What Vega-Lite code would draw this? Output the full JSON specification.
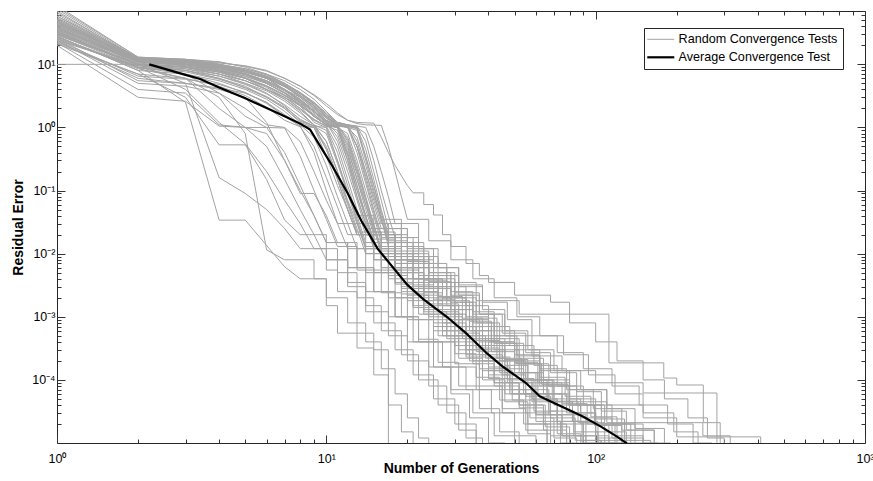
{
"$schema":"https://vega.github.io/schema/vega-lite/v6.json",
"width":808,"height":432,
"autosize":"none",
"padding":{"left":57,"top":11,"right":8,"bottom":38},
"background":"#ffffff",
"config":{"view":{"stroke":"#262626","strokeWidth":1},
"axis":{"tickColor":"#333333","tickWidth":1,"labelFont":"Liberation Sans","titleFont":"Liberation Sans","labelColor":"#000000","titleColor":"#000000","grid":false,"labelFontSize":12.5}},
"datasets":{
"e":[
{"r":1,"x":1,"y":45},{"r":1,"x":2,"y":12},{"r":1,"x":3,"y":11},{"r":1,"x":4,"y":8},{"r":1,"x":5,"y":6},{"r":1,"x":6,"y":4},{"r":1,"x":7,"y":2.8},{"r":1,"x":8,"y":1.8},{"r":1,"x":9,"y":1.1},{"r":1,"x":10,"y":0.45},{"r":1,"x":11,"y":0.15},{"r":1,"x":12,"y":0.05},{"r":1,"x":13,"y":0.02},
{"r":2,"x":1,"y":30},{"r":2,"x":2,"y":10},{"r":2,"x":3,"y":9},{"r":2,"x":4,"y":7.5},{"r":2,"x":5,"y":5.5},{"r":2,"x":6,"y":4},{"r":2,"x":7,"y":3},{"r":2,"x":8,"y":2.2},{"r":2,"x":9,"y":1.6},{"r":2,"x":10,"y":1.1},{"r":2,"x":11,"y":1.0},{"r":2,"x":12,"y":0.4},{"r":2,"x":13,"y":0.12},{"r":2,"x":14,"y":0.04},{"r":2,"x":15,"y":0.015},
{"r":3,"x":1,"y":80},{"r":3,"x":2,"y":13},{"r":3,"x":3,"y":12},{"r":3,"x":4,"y":10},{"r":3,"x":5,"y":8},{"r":3,"x":6,"y":6},{"r":3,"x":7,"y":4},{"r":3,"x":8,"y":2.5},{"r":3,"x":9,"y":1.5},{"r":3,"x":10,"y":1.1},{"r":3,"x":11,"y":1.05},{"r":3,"x":12,"y":1.0},{"r":3,"x":13,"y":0.5},{"r":3,"x":14,"y":0.15},{"r":3,"x":15,"y":0.05},{"r":3,"x":16,"y":0.02},
{"r":4,"x":1,"y":25},{"r":4,"x":2,"y":9},{"r":4,"x":3,"y":7},{"r":4,"x":4,"y":5},{"r":4,"x":5,"y":3.5},{"r":4,"x":6,"y":2.5},{"r":4,"x":7,"y":1.5},{"r":4,"x":8,"y":1.05},{"r":4,"x":9,"y":0.4},{"r":4,"x":10,"y":0.1},{"r":4,"x":11,"y":0.03},{"r":4,"x":12,"y":0.012},
{"r":5,"x":1,"y":50},{"r":5,"x":2,"y":11},{"r":5,"x":3,"y":10},{"r":5,"x":4,"y":9},{"r":5,"x":5,"y":7},{"r":5,"x":6,"y":5},{"r":5,"x":7,"y":3.5},{"r":5,"x":8,"y":2.5},{"r":5,"x":9,"y":1.8},{"r":5,"x":10,"y":1.2},{"r":5,"x":11,"y":0.8},{"r":5,"x":12,"y":0.3},{"r":5,"x":13,"y":0.08},{"r":5,"x":14,"y":0.03},
{"r":6,"x":1,"y":35},{"r":6,"x":2,"y":12},{"r":6,"x":3,"y":10},{"r":6,"x":4,"y":8},{"r":6,"x":5,"y":6.5},{"r":6,"x":6,"y":5},{"r":6,"x":7,"y":3.5},{"r":6,"x":8,"y":2.2},{"r":6,"x":9,"y":1.2},{"r":6,"x":10,"y":1.0},{"r":6,"x":11,"y":0.3},{"r":6,"x":12,"y":0.09},{"r":6,"x":13,"y":0.04},
{"r":7,"x":1,"y":32},{"r":7,"x":2,"y":10},{"r":7,"x":3,"y":8},{"r":7,"x":4,"y":6},{"r":7,"x":5,"y":4.5},{"r":7,"x":6,"y":3},{"r":7,"x":7,"y":2},{"r":7,"x":8,"y":1.2},{"r":7,"x":9,"y":1.0},{"r":7,"x":10,"y":0.35},{"r":7,"x":11,"y":0.12},{"r":7,"x":12,"y":0.05},{"r":7,"x":13,"y":0.02},
{"r":8,"x":1,"y":70},{"r":8,"x":2,"y":12},{"r":8,"x":3,"y":11},{"r":8,"x":4,"y":10},{"r":8,"x":5,"y":8.5},{"r":8,"x":6,"y":7},{"r":8,"x":7,"y":5},{"r":8,"x":8,"y":3.5},{"r":8,"x":9,"y":2.5},{"r":8,"x":10,"y":1.6},{"r":8,"x":11,"y":1.2},{"r":8,"x":12,"y":1.1},{"r":8,"x":13,"y":1.05},{"r":8,"x":14,"y":0.6},{"r":8,"x":15,"y":0.2},{"r":8,"x":16,"y":0.07},{"r":8,"x":17,"y":0.025},
{"r":9,"x":1,"y":22},{"r":9,"x":2,"y":4},{"r":9,"x":3,"y":3.5},{"r":9,"x":4,"y":1.1},{"r":9,"x":5,"y":1.0},{"r":9,"x":6,"y":0.8},{"r":9,"x":7,"y":0.3},{"r":9,"x":8,"y":0.1},{"r":9,"x":9,"y":0.04},{"r":9,"x":10,"y":0.015},
{"r":10,"x":1,"y":28},{"r":10,"x":2,"y":8},{"r":10,"x":3,"y":2.5},{"r":10,"x":4,"y":0.034},{"r":10,"x":5,"y":0.034},{"r":10,"x":7,"y":0.0062},{"r":10,"x":8,"y":0.004},
{"r":11,"x":1,"y":22},{"r":11,"x":2,"y":7},{"r":11,"x":3,"y":3},{"r":11,"x":4,"y":0.53},{"r":11,"x":5,"y":0.53},{"r":11,"x":6,"y":0.15},{"r":11,"x":7,"y":0.034},{"r":11,"x":8,"y":0.02},
{"r":12,"x":1,"y":40},{"r":12,"x":2,"y":10},{"r":12,"x":3,"y":5},{"r":12,"x":4,"y":0.16},{"r":12,"x":5,"y":0.09},{"r":12,"x":6,"y":0.05},{"r":12,"x":7,"y":0.025},{"r":12,"x":8,"y":0.012},
{"r":13,"x":1,"y":24},{"r":13,"x":2,"y":5},{"r":13,"x":3,"y":4.5},{"r":13,"x":4,"y":3.5},{"r":13,"x":5,"y":2},{"r":13,"x":6,"y":1.1},{"r":13,"x":7,"y":1.0},{"r":13,"x":8,"y":0.6},{"r":13,"x":9,"y":0.2},{"r":13,"x":10,"y":0.07},{"r":13,"x":11,"y":0.03},
{"r":14,"x":1,"y":38},{"r":14,"x":2,"y":11},{"r":14,"x":3,"y":10},{"r":14,"x":4,"y":9},{"r":14,"x":5,"y":7.5},{"r":14,"x":6,"y":6},{"r":14,"x":7,"y":4.5},{"r":14,"x":8,"y":3},{"r":14,"x":9,"y":2},{"r":14,"x":10,"y":1.3},{"r":14,"x":11,"y":1.1},{"r":14,"x":12,"y":0.6},{"r":14,"x":13,"y":0.2},{"r":14,"x":14,"y":0.07},{"r":14,"x":15,"y":0.025},{"r":14,"x":16,"y":0.01},
{"r":15,"x":1,"y":85},{"r":15,"x":2,"y":13},{"r":15,"x":3,"y":12},{"r":15,"x":4,"y":11},{"r":15,"x":5,"y":9},{"r":15,"x":6,"y":7},{"r":15,"x":7,"y":5.5},{"r":15,"x":8,"y":4},{"r":15,"x":9,"y":2.8},{"r":15,"x":10,"y":1.8},{"r":15,"x":11,"y":1.2},{"r":15,"x":12,"y":1.1},{"r":15,"x":13,"y":1.05},{"r":15,"x":14,"y":1.0},{"r":15,"x":15,"y":0.5},{"r":15,"x":16,"y":0.2},{"r":15,"x":17,"y":0.08},{"r":15,"x":18,"y":0.03},
{"r":16,"x":1,"y":48},{"r":16,"x":2,"y":12},{"r":16,"x":3,"y":11.5},{"r":16,"x":4,"y":10.5},{"r":16,"x":5,"y":9.5},{"r":16,"x":6,"y":8},{"r":16,"x":7,"y":6},{"r":16,"x":8,"y":4.5},{"r":16,"x":9,"y":3.2},{"r":16,"x":10,"y":2.2},{"r":16,"x":11,"y":1.6},{"r":16,"x":12,"y":1.3},{"r":16,"x":13,"y":1.2},{"r":16,"x":15,"y":1.17},{"r":16,"x":16,"y":0.7},{"r":16,"x":17,"y":0.4},{"r":16,"x":18,"y":0.25},{"r":16,"x":20,"y":0.12},{"r":16,"x":21,"y":0.092},
{"r":17,"x":1,"y":33},{"r":17,"x":2,"y":11},{"r":17,"x":3,"y":10},{"r":17,"x":4,"y":8.5},{"r":17,"x":5,"y":7},{"r":17,"x":6,"y":5.5},{"r":17,"x":7,"y":4},{"r":17,"x":8,"y":3},{"r":17,"x":9,"y":2},{"r":17,"x":10,"y":1.4},{"r":17,"x":11,"y":1.1},{"r":17,"x":12,"y":1.0},{"r":17,"x":13,"y":0.5},{"r":17,"x":14,"y":0.2},{"r":17,"x":15,"y":0.08},{"r":17,"x":16,"y":0.035},
{"r":18,"x":1,"y":27},{"r":18,"x":2,"y":9},{"r":18,"x":3,"y":8},{"r":18,"x":4,"y":6.5},{"r":18,"x":5,"y":5},{"r":18,"x":6,"y":3.5},{"r":18,"x":7,"y":2.2},{"r":18,"x":8,"y":1.3},{"r":18,"x":9,"y":1.05},{"r":18,"x":10,"y":1.0},{"r":18,"x":11,"y":0.4},{"r":18,"x":12,"y":0.12},{"r":18,"x":13,"y":0.04},{"r":18,"x":14,"y":0.015},
{"r":19,"x":1,"y":52},{"r":19,"x":2,"y":12.5},{"r":19,"x":3,"y":11},{"r":19,"x":4,"y":9.5},{"r":19,"x":5,"y":8},{"r":19,"x":6,"y":6},{"r":19,"x":7,"y":4},{"r":19,"x":8,"y":2.8},{"r":19,"x":9,"y":1.8},{"r":19,"x":10,"y":1.2},{"r":19,"x":11,"y":0.6},{"r":19,"x":12,"y":0.2},{"r":19,"x":13,"y":0.07},{"r":19,"x":14,"y":0.025},
{"r":20,"x":1,"y":20},{"r":20,"x":2,"y":3},{"r":20,"x":3,"y":2.6},{"r":20,"x":4,"y":1.05},{"r":20,"x":5,"y":1.0},{"r":20,"x":6,"y":1.0},{"r":20,"x":7,"y":0.4},{"r":20,"x":8,"y":0.12},{"r":20,"x":9,"y":0.04},{"r":20,"x":10,"y":0.015},
{"r":21,"x":1,"y":42},{"r":21,"x":2,"y":11},{"r":21,"x":3,"y":9.5},{"r":21,"x":4,"y":8},{"r":21,"x":5,"y":6},{"r":21,"x":6,"y":4.5},{"r":21,"x":7,"y":3.2},{"r":21,"x":8,"y":2.3},{"r":21,"x":9,"y":1.5},{"r":21,"x":10,"y":1.1},{"r":21,"x":11,"y":1.0},{"r":21,"x":12,"y":0.8},{"r":21,"x":13,"y":0.3},{"r":21,"x":14,"y":0.1},{"r":21,"x":15,"y":0.04},{"r":21,"x":16,"y":0.015},
{"r":22,"x":1,"y":36},{"r":22,"x":2,"y":10.5},{"r":22,"x":3,"y":9},{"r":22,"x":4,"y":7},{"r":22,"x":5,"y":5},{"r":22,"x":6,"y":3.8},{"r":22,"x":7,"y":2.6},{"r":22,"x":8,"y":1.7},{"r":22,"x":9,"y":1.1},{"r":22,"x":10,"y":0.6},{"r":22,"x":11,"y":0.2},{"r":22,"x":12,"y":0.07},{"r":22,"x":13,"y":0.03},{"r":22,"x":14,"y":0.012},
{"r":23,"x":1,"y":58},{"r":23,"x":2,"y":12},{"r":23,"x":3,"y":11},{"r":23,"x":4,"y":9},{"r":23,"x":5,"y":7},{"r":23,"x":6,"y":5},{"r":23,"x":7,"y":3.5},{"r":23,"x":8,"y":2.4},{"r":23,"x":9,"y":1.6},{"r":23,"x":10,"y":1.15},{"r":23,"x":11,"y":1.05},{"r":23,"x":12,"y":0.5},{"r":23,"x":13,"y":0.15},{"r":23,"x":14,"y":0.05},{"r":23,"x":15,"y":0.02},
{"r":24,"x":1,"y":24},{"r":24,"x":2,"y":9.5},{"r":24,"x":3,"y":8.5},{"r":24,"x":4,"y":7},{"r":24,"x":5,"y":5.5},{"r":24,"x":6,"y":4},{"r":24,"x":7,"y":2.8},{"r":24,"x":8,"y":1.9},{"r":24,"x":9,"y":1.3},{"r":24,"x":10,"y":1.05},{"r":24,"x":11,"y":0.5},{"r":24,"x":12,"y":0.15},{"r":24,"x":13,"y":0.05},{"r":24,"x":14,"y":0.02},
{"r":25,"x":1,"y":44},{"r":25,"x":2,"y":11.5},{"r":25,"x":3,"y":10.5},{"r":25,"x":4,"y":9},{"r":25,"x":5,"y":7.5},{"r":25,"x":6,"y":6},{"r":25,"x":7,"y":4.5},{"r":25,"x":8,"y":3.2},{"r":25,"x":9,"y":2.2},{"r":25,"x":10,"y":1.5},{"r":25,"x":11,"y":1.1},{"r":25,"x":12,"y":1.0},{"r":25,"x":13,"y":0.7},{"r":25,"x":14,"y":0.25},{"r":25,"x":15,"y":0.09},{"r":25,"x":16,"y":0.035},{"r":25,"x":17,"y":0.015},
{"r":26,"x":1,"y":31},{"r":26,"x":2,"y":10},{"r":26,"x":3,"y":9},{"r":26,"x":4,"y":7.5},{"r":26,"x":5,"y":6},{"r":26,"x":6,"y":4.5},{"r":26,"x":7,"y":3.2},{"r":26,"x":8,"y":2.2},{"r":26,"x":9,"y":1.5},{"r":26,"x":10,"y":1.1},{"r":26,"x":11,"y":1.0},{"r":26,"x":12,"y":0.45},{"r":26,"x":13,"y":0.15},{"r":26,"x":14,"y":0.06},{"r":26,"x":15,"y":0.025},
{"r":27,"x":1,"y":28},{"r":27,"x":2,"y":8},{"r":27,"x":3,"y":7},{"r":27,"x":4,"y":5.5},{"r":27,"x":5,"y":4},{"r":27,"x":6,"y":2.8},{"r":27,"x":7,"y":1.8},{"r":27,"x":8,"y":1.1},{"r":27,"x":9,"y":0.7},{"r":27,"x":10,"y":0.25},{"r":27,"x":11,"y":0.08},{"r":27,"x":12,"y":0.03},{"r":27,"x":13,"y":0.012},
{"r":28,"x":1,"y":10},{"r":28,"x":2,"y":10},{"r":28,"x":3,"y":9},{"r":28,"x":4,"y":7},{"r":28,"x":5,"y":5.5},{"r":28,"x":6,"y":4},{"r":28,"x":7,"y":3},{"r":28,"x":8,"y":2},{"r":28,"x":9,"y":1.3},{"r":28,"x":10,"y":1.05},{"r":28,"x":11,"y":0.9},{"r":28,"x":12,"y":0.35},{"r":28,"x":13,"y":0.1},{"r":28,"x":14,"y":0.035},{"r":28,"x":15,"y":0.013},
{"r":29,"x":1,"y":34},{"r":29,"x":2,"y":9},{"r":29,"x":3,"y":6},{"r":29,"x":4,"y":2},{"r":29,"x":5,"y":1.0},{"r":29,"x":6,"y":0.5},{"r":29,"x":7,"y":0.15},{"r":29,"x":8,"y":0.05},{"r":29,"x":9,"y":0.02},{"r":29,"x":10,"y":0.008},
{"r":30,"x":1,"y":26},{"r":30,"x":2,"y":5.5},{"r":30,"x":3,"y":5},{"r":30,"x":4,"y":4.2},{"r":30,"x":5,"y":3.5},{"r":30,"x":6,"y":2.5},{"r":30,"x":7,"y":1.6},{"r":30,"x":8,"y":1.1},{"r":30,"x":9,"y":1.0},{"r":30,"x":10,"y":0.45},{"r":30,"x":11,"y":0.15},{"r":30,"x":12,"y":0.05},{"r":30,"x":13,"y":0.02},
{"r":31,"x":1,"y":46},{"r":31,"x":2,"y":12},{"r":31,"x":3,"y":10},{"r":31,"x":4,"y":8.5},{"r":31,"x":5,"y":7},{"r":31,"x":6,"y":5.5},{"r":31,"x":7,"y":4},{"r":31,"x":8,"y":2.8},{"r":31,"x":9,"y":1.9},{"r":31,"x":10,"y":1.3},{"r":31,"x":11,"y":1.1},{"r":31,"x":12,"y":1.05},{"r":31,"x":13,"y":1.0},{"r":31,"x":14,"y":0.45},{"r":31,"x":15,"y":0.15},{"r":31,"x":16,"y":0.05},{"r":31,"x":17,"y":0.02},
{"r":32,"x":1,"y":26},{"r":32,"x":2,"y":8.5},{"r":32,"x":3,"y":6},{"r":32,"x":4,"y":3},{"r":32,"x":5,"y":0.8},{"r":32,"x":6,"y":0.0115},{"r":32,"x":7,"y":0.008},
{"r":33,"x":1,"y":39},{"r":33,"x":2,"y":11},{"r":33,"x":3,"y":10},{"r":33,"x":4,"y":8},{"r":33,"x":5,"y":6.5},{"r":33,"x":6,"y":5},{"r":33,"x":7,"y":3.6},{"r":33,"x":8,"y":2.5},{"r":33,"x":9,"y":1.7},{"r":33,"x":10,"y":1.2},{"r":33,"x":11,"y":1.0},{"r":33,"x":12,"y":0.3},{"r":33,"x":13,"y":0.1},{"r":33,"x":14,"y":0.04},{"r":33,"x":15,"y":0.017},
{"r":34,"x":1,"y":75},{"r":34,"x":2,"y":12.5},{"r":34,"x":3,"y":11.5},{"r":34,"x":4,"y":10},{"r":34,"x":5,"y":8},{"r":34,"x":6,"y":6.5},{"r":34,"x":7,"y":5},{"r":34,"x":8,"y":3.5},{"r":34,"x":9,"y":2.4},{"r":34,"x":10,"y":1.6},{"r":34,"x":11,"y":1.2},{"r":34,"x":12,"y":1.1},{"r":34,"x":13,"y":0.6},{"r":34,"x":14,"y":0.2},{"r":34,"x":15,"y":0.07},{"r":34,"x":16,"y":0.03},
{"r":35,"x":1,"y":29},{"r":35,"x":2,"y":10},{"r":35,"x":3,"y":8.5},{"r":35,"x":4,"y":6.5},{"r":35,"x":5,"y":4.8},{"r":35,"x":6,"y":3.4},{"r":35,"x":7,"y":2.3},{"r":35,"x":8,"y":1.5},{"r":35,"x":9,"y":1.1},{"r":35,"x":10,"y":0.9},{"r":35,"x":11,"y":0.3},{"r":35,"x":12,"y":0.1},{"r":35,"x":13,"y":0.035},{"r":35,"x":14,"y":0.013},
{"r":36,"x":1,"y":23},{"r":36,"x":2,"y":6},{"r":36,"x":3,"y":5},{"r":36,"x":4,"y":4},{"r":36,"x":5,"y":3},{"r":36,"x":6,"y":1.2},{"r":36,"x":7,"y":0.3},{"r":36,"x":8,"y":0.09},{"r":36,"x":9,"y":0.09},{"r":36,"x":10,"y":0.04},{"r":36,"x":11,"y":0.015},
{"r":37,"x":1,"y":37},{"r":37,"x":2,"y":11},{"r":37,"x":3,"y":9.8},{"r":37,"x":4,"y":8.2},{"r":37,"x":5,"y":6.8},{"r":37,"x":6,"y":5.2},{"r":37,"x":7,"y":3.8},{"r":37,"x":8,"y":2.6},{"r":37,"x":9,"y":1.8},{"r":37,"x":10,"y":1.25},{"r":37,"x":11,"y":1.05},{"r":37,"x":12,"y":0.7},{"r":37,"x":13,"y":0.25},{"r":37,"x":14,"y":0.08},{"r":37,"x":15,"y":0.03},{"r":37,"x":16,"y":0.012},
{"r":38,"x":1,"y":53},{"r":38,"x":2,"y":11.5},{"r":38,"x":3,"y":10.5},{"r":38,"x":4,"y":9.5},{"r":38,"x":5,"y":8},{"r":38,"x":6,"y":6.2},{"r":38,"x":7,"y":4.5},{"r":38,"x":8,"y":3.2},{"r":38,"x":9,"y":2.2},{"r":38,"x":10,"y":1.5},{"r":38,"x":11,"y":1.15},{"r":38,"x":12,"y":1.05},{"r":38,"x":13,"y":1.0},{"r":38,"x":14,"y":0.8},{"r":38,"x":15,"y":0.3},{"r":38,"x":16,"y":0.1},{"r":38,"x":17,"y":0.04},{"r":38,"x":18,"y":0.018},
{"r":39,"x":1,"y":41},{"r":39,"x":2,"y":11},{"r":39,"x":3,"y":10},{"r":39,"x":4,"y":8.8},{"r":39,"x":5,"y":7.2},{"r":39,"x":6,"y":5.5},{"r":39,"x":7,"y":4},{"r":39,"x":8,"y":2.7},{"r":39,"x":9,"y":1.8},{"r":39,"x":10,"y":1.2},{"r":39,"x":11,"y":0.7},{"r":39,"x":12,"y":0.25},{"r":39,"x":13,"y":0.08},{"r":39,"x":14,"y":0.03},{"r":39,"x":15,"y":0.012},
{"r":40,"x":1,"y":66},{"r":40,"x":2,"y":12.5},{"r":40,"x":3,"y":11.5},{"r":40,"x":4,"y":10},{"r":40,"x":5,"y":8.5},{"r":40,"x":6,"y":6.8},{"r":40,"x":7,"y":5},{"r":40,"x":8,"y":3.6},{"r":40,"x":9,"y":2.5},{"r":40,"x":10,"y":1.7},{"r":40,"x":11,"y":1.2},{"r":40,"x":12,"y":1.08},{"r":40,"x":13,"y":1.0},{"r":40,"x":14,"y":0.35},{"r":40,"x":15,"y":0.12},{"r":40,"x":16,"y":0.045},{"r":40,"x":17,"y":0.018},
{"r":41,"x":1,"y":33},{"r":41,"x":2,"y":9.5},{"r":41,"x":3,"y":8},{"r":41,"x":4,"y":6},{"r":41,"x":5,"y":4.2},{"r":41,"x":6,"y":3},{"r":41,"x":7,"y":2},{"r":41,"x":8,"y":1.25},{"r":41,"x":9,"y":1.05},{"r":41,"x":10,"y":0.6},{"r":41,"x":11,"y":0.2},{"r":41,"x":12,"y":0.065},{"r":41,"x":13,"y":0.025},{"r":41,"x":14,"y":0.01},
{"r":42,"x":1,"y":55},{"r":42,"x":2,"y":12},{"r":42,"x":3,"y":11},{"r":42,"x":4,"y":9.8},{"r":42,"x":5,"y":8.2},{"r":42,"x":6,"y":6.5},{"r":42,"x":7,"y":4.8},{"r":42,"x":8,"y":3.4},{"r":42,"x":9,"y":2.3},{"r":42,"x":10,"y":1.5},{"r":42,"x":11,"y":1.1},{"r":42,"x":12,"y":1.02},{"r":42,"x":13,"y":0.4},{"r":42,"x":14,"y":0.13},{"r":42,"x":15,"y":0.045},{"r":42,"x":16,"y":0.018},
{"r":43,"x":1,"y":21},{"r":43,"x":2,"y":7},{"r":43,"x":3,"y":6},{"r":43,"x":4,"y":4.5},{"r":43,"x":5,"y":3.2},{"r":43,"x":6,"y":2.1},{"r":43,"x":7,"y":1.3},{"r":43,"x":8,"y":1.02},{"r":43,"x":9,"y":0.5},{"r":43,"x":10,"y":0.16},{"r":43,"x":11,"y":0.055},{"r":43,"x":12,"y":0.02},
{"r":44,"x":1,"y":47},{"r":44,"x":2,"y":11.8},{"r":44,"x":3,"y":10.8},{"r":44,"x":4,"y":9.2},{"r":44,"x":5,"y":7.6},{"r":44,"x":6,"y":6},{"r":44,"x":7,"y":4.4},{"r":44,"x":8,"y":3.1},{"r":44,"x":9,"y":2.1},{"r":44,"x":10,"y":1.4},{"r":44,"x":11,"y":1.1},{"r":44,"x":12,"y":1.0},{"r":44,"x":13,"y":0.9},{"r":44,"x":14,"y":0.35},{"r":44,"x":15,"y":0.12},{"r":44,"x":16,"y":0.04},{"r":44,"x":17,"y":0.016},
{"r":45,"x":1,"y":58},{"r":45,"x":2,"y":12.8},{"r":45,"x":3,"y":12},{"r":45,"x":4,"y":10.8},{"r":45,"x":5,"y":9.3},{"r":45,"x":6,"y":7.8},{"r":45,"x":7,"y":6},{"r":45,"x":8,"y":4.5},{"r":45,"x":9,"y":3.3},{"r":45,"x":10,"y":2.4},{"r":45,"x":11,"y":1.7},{"r":45,"x":12,"y":1.3},{"r":45,"x":13,"y":1.15},{"r":45,"x":14,"y":1.1},{"r":45,"x":16,"y":1.08},{"r":45,"x":17,"y":0.5},{"r":45,"x":18,"y":0.2},{"r":45,"x":19,"y":0.08},{"r":45,"x":20,"y":0.035},
{"r":46,"x":1,"y":30},{"r":46,"x":2,"y":9},{"r":46,"x":3,"y":4},{"r":46,"x":4,"y":1.2},{"r":46,"x":5,"y":0.55},{"r":46,"x":6,"y":0.2},{"r":46,"x":7,"y":0.07},{"r":46,"x":8,"y":0.03},{"r":46,"x":9,"y":0.012},
{"r":47,"x":1,"y":38},{"r":47,"x":2,"y":10.8},{"r":47,"x":3,"y":9.5},{"r":47,"x":4,"y":7.8},{"r":47,"x":5,"y":6.2},{"r":47,"x":6,"y":4.6},{"r":47,"x":7,"y":3.3},{"r":47,"x":8,"y":2.3},{"r":47,"x":9,"y":1.5},{"r":47,"x":10,"y":1.1},{"r":47,"x":11,"y":1.0},{"r":47,"x":12,"y":0.55},{"r":47,"x":13,"y":0.18},{"r":47,"x":14,"y":0.06},{"r":47,"x":15,"y":0.022},
{"r":48,"x":1,"y":27},{"r":48,"x":2,"y":8.8},{"r":48,"x":3,"y":7.6},{"r":48,"x":4,"y":5.8},{"r":48,"x":5,"y":4.3},{"r":48,"x":6,"y":3.1},{"r":48,"x":7,"y":2.1},{"r":48,"x":8,"y":1.35},{"r":48,"x":9,"y":1.05},{"r":48,"x":10,"y":0.8},{"r":48,"x":11,"y":0.27},{"r":48,"x":12,"y":0.09},{"r":48,"x":13,"y":0.032},{"r":48,"x":14,"y":0.012},
{"r":49,"x":1,"y":50},{"r":49,"x":2,"y":12},{"r":49,"x":3,"y":10.8},{"r":49,"x":4,"y":9.3},{"r":49,"x":5,"y":7.8},{"r":49,"x":6,"y":6.2},{"r":49,"x":7,"y":4.7},{"r":49,"x":8,"y":3.4},{"r":49,"x":9,"y":2.4},{"r":49,"x":10,"y":1.6},{"r":49,"x":11,"y":1.15},{"r":49,"x":12,"y":1.05},{"r":49,"x":13,"y":0.5},{"r":49,"x":14,"y":0.17},{"r":49,"x":15,"y":0.06},{"r":49,"x":16,"y":0.025},
{"r":50,"x":1,"y":24},{"r":50,"x":2,"y":6.5},{"r":50,"x":3,"y":5.8},{"r":50,"x":4,"y":4.8},{"r":50,"x":5,"y":3.6},{"r":50,"x":6,"y":2.4},{"r":50,"x":7,"y":1.5},{"r":50,"x":8,"y":1.05},{"r":50,"x":9,"y":1.0},{"r":50,"x":10,"y":0.5},{"r":50,"x":11,"y":0.17},{"r":50,"x":12,"y":0.06},{"r":50,"x":13,"y":0.022},
{"r":51,"x":1,"y":62},{"r":51,"x":2,"y":12.2},{"r":51,"x":3,"y":11.2},{"r":51,"x":4,"y":9.6},{"r":51,"x":5,"y":8},{"r":51,"x":6,"y":6.3},{"r":51,"x":7,"y":4.6},{"r":51,"x":8,"y":3.2},{"r":51,"x":9,"y":2.2},{"r":51,"x":10,"y":1.45},{"r":51,"x":11,"y":1.12},{"r":51,"x":12,"y":1.04},{"r":51,"x":13,"y":0.95},{"r":51,"x":14,"y":0.3},{"r":51,"x":15,"y":0.1},{"r":51,"x":16,"y":0.035},{"r":51,"x":17,"y":0.013},
{"r":52,"x":1,"y":35},{"r":52,"x":2,"y":9.8},{"r":52,"x":3,"y":7},{"r":52,"x":4,"y":3.5},{"r":52,"x":5,"y":1.5},{"r":52,"x":6,"y":1.0},{"r":52,"x":7,"y":0.98},{"r":52,"x":8,"y":0.35},{"r":52,"x":9,"y":0.1},{"r":52,"x":10,"y":0.035},{"r":52,"x":11,"y":0.013},
{"r":53,"x":1,"y":43},{"r":53,"x":2,"y":11.3},{"r":53,"x":3,"y":10.2},{"r":53,"x":4,"y":8.6},{"r":53,"x":5,"y":7},{"r":53,"x":6,"y":5.3},{"r":53,"x":7,"y":3.9},{"r":53,"x":8,"y":2.7},{"r":53,"x":9,"y":1.8},{"r":53,"x":10,"y":1.25},{"r":53,"x":11,"y":1.05},{"r":53,"x":12,"y":0.65},{"r":53,"x":13,"y":0.22},{"r":53,"x":14,"y":0.075},{"r":53,"x":15,"y":0.028},{"r":53,"x":16,"y":0.011},
{"r":54,"x":1,"y":31},{"r":54,"x":2,"y":10.2},{"r":54,"x":3,"y":9.2},{"r":54,"x":4,"y":7.6},{"r":54,"x":5,"y":6},{"r":54,"x":6,"y":4.3},{"r":54,"x":7,"y":3},{"r":54,"x":8,"y":2},{"r":54,"x":9,"y":1.35},{"r":54,"x":10,"y":1.05},{"r":54,"x":11,"y":1.0},{"r":54,"x":12,"y":0.38},{"r":54,"x":13,"y":0.12},{"r":54,"x":14,"y":0.04},{"r":54,"x":15,"y":0.015}
],
"t":[
{"r":1,"x":13,"y":0.02},{"r":1,"x":16,"y":0.006},{"r":1,"x":19,"y":0.003},{"r":1,"x":23,"y":0.0012},{"r":1,"x":28,"y":5e-4},{"r":1,"x":34,"y":2e-4},{"r":1,"x":42,"y":9e-5},{"r":1,"x":52,"y":4e-5},{"r":1,"x":65,"y":1.8e-5},{"r":1,"x":80,"y":5e-6},
{"r":2,"x":15,"y":0.015},{"r":2,"x":18,"y":0.007},{"r":2,"x":22,"y":0.003},{"r":2,"x":27,"y":0.0015},{"r":2,"x":31,"y":7e-4},{"r":2,"x":38,"y":3e-4},{"r":2,"x":46,"y":1.3e-4},{"r":2,"x":60,"y":6e-5},{"r":2,"x":78,"y":3e-5},{"r":2,"x":100,"y":1.2e-5},{"r":2,"x":120,"y":5e-6},
{"r":3,"x":16,"y":0.02},{"r":3,"x":19,"y":0.009},{"r":3,"x":23,"y":0.004},{"r":3,"x":27,"y":0.002},{"r":3,"x":33,"y":9e-4},{"r":3,"x":40,"y":4e-4},{"r":3,"x":50,"y":2e-4},{"r":3,"x":62,"y":8e-5},{"r":3,"x":80,"y":4e-5},{"r":3,"x":105,"y":2e-5},{"r":3,"x":140,"y":5e-6},
{"r":4,"x":12,"y":0.012},{"r":4,"x":14,"y":0.005},{"r":4,"x":17,"y":0.002},{"r":4,"x":20,"y":9e-4},{"r":4,"x":24,"y":4e-4},{"r":4,"x":29,"y":1.6e-4},{"r":4,"x":36,"y":7e-5},{"r":4,"x":45,"y":3e-5},{"r":4,"x":56,"y":1.4e-5},{"r":4,"x":68,"y":5e-6},
{"r":5,"x":14,"y":0.03},{"r":5,"x":17,"y":0.01},{"r":5,"x":21,"y":0.004},{"r":5,"x":26,"y":0.0018},{"r":5,"x":30,"y":9e-4},{"r":5,"x":37,"y":4e-4},{"r":5,"x":45,"y":2e-4},{"r":5,"x":55,"y":1e-4},{"r":5,"x":70,"y":5e-5},{"r":5,"x":88,"y":2.5e-5},{"r":5,"x":115,"y":1.2e-5},{"r":5,"x":150,"y":5e-6},
{"r":6,"x":13,"y":0.04},{"r":6,"x":15,"y":0.015},{"r":6,"x":18,"y":0.006},{"r":6,"x":22,"y":0.0025},{"r":6,"x":26,"y":0.0011},{"r":6,"x":32,"y":5e-4},{"r":6,"x":39,"y":2.2e-4},{"r":6,"x":47,"y":1e-4},{"r":6,"x":58,"y":5e-5},{"r":6,"x":72,"y":2.2e-5},{"r":6,"x":90,"y":1.1e-5},{"r":6,"x":105,"y":5e-6},
{"r":7,"x":13,"y":0.02},{"r":7,"x":15,"y":0.008},{"r":7,"x":18,"y":0.0035},{"r":7,"x":21,"y":0.0015},{"r":7,"x":25,"y":7e-4},{"r":7,"x":31,"y":3e-4},{"r":7,"x":38,"y":1.4e-4},{"r":7,"x":46,"y":6e-5},{"r":7,"x":57,"y":2.5e-5},{"r":7,"x":70,"y":1.2e-5},{"r":7,"x":85,"y":5e-6},
{"r":8,"x":17,"y":0.025},{"r":8,"x":20,"y":0.01},{"r":8,"x":24,"y":0.005},{"r":8,"x":29,"y":0.0025},{"r":8,"x":35,"y":0.0012},{"r":8,"x":42,"y":6e-4},{"r":8,"x":50,"y":3e-4},{"r":8,"x":62,"y":1.5e-4},{"r":8,"x":78,"y":7e-5},{"r":8,"x":98,"y":3.5e-5},{"r":8,"x":125,"y":1.6e-5},{"r":8,"x":165,"y":5e-6},
{"r":9,"x":10,"y":0.015},{"r":9,"x":12,"y":0.006},{"r":9,"x":15,"y":0.0025},{"r":9,"x":18,"y":0.001},{"r":9,"x":22,"y":4e-4},{"r":9,"x":27,"y":1.6e-4},{"r":9,"x":33,"y":7e-5},{"r":9,"x":41,"y":3e-5},{"r":9,"x":50,"y":1.3e-5},{"r":9,"x":60,"y":5e-6},
{"r":10,"x":8,"y":0.004},{"r":10,"x":10,"y":0.002},{"r":10,"x":12,"y":8e-4},{"r":10,"x":14,"y":4e-4},{"r":10,"x":16,"y":1.5e-4},{"r":10,"x":18,"y":6e-5},{"r":10,"x":20,"y":2.5e-5},{"r":10,"x":22,"y":1.2e-5},{"r":10,"x":24,"y":5e-6},
{"r":11,"x":8,"y":0.02},{"r":11,"x":10,"y":0.008},{"r":11,"x":12,"y":0.003},{"r":11,"x":14,"y":0.0012},{"r":11,"x":17,"y":5e-4},{"r":11,"x":20,"y":2e-4},{"r":11,"x":24,"y":8e-5},{"r":11,"x":28,"y":3e-5},{"r":11,"x":33,"y":1.2e-5},{"r":11,"x":38,"y":5e-6},
{"r":12,"x":8,"y":0.012},{"r":12,"x":10,"y":0.0055},{"r":12,"x":11,"y":0.0025},{"r":12,"x":13,"y":5.5e-4},{"r":12,"x":15,"y":3e-4},{"r":12,"x":17,"y":5e-6},
{"r":13,"x":11,"y":0.03},{"r":13,"x":14,"y":0.01},{"r":13,"x":17,"y":0.004},{"r":13,"x":20,"y":0.0018},{"r":13,"x":25,"y":8e-4},{"r":13,"x":30,"y":3.5e-4},{"r":13,"x":37,"y":1.5e-4},{"r":13,"x":45,"y":7e-5},{"r":13,"x":55,"y":3e-5},{"r":13,"x":68,"y":1.3e-5},{"r":13,"x":80,"y":5e-6},
{"r":14,"x":16,"y":0.01},{"r":14,"x":19,"y":0.005},{"r":14,"x":23,"y":0.0022},{"r":14,"x":27,"y":0.001},{"r":14,"x":32,"y":4.5e-4},{"r":14,"x":38,"y":2e-4},{"r":14,"x":47,"y":9e-5},{"r":14,"x":58,"y":4.5e-5},{"r":14,"x":72,"y":2e-5},{"r":14,"x":90,"y":1e-5},{"r":14,"x":110,"y":5e-6},
{"r":15,"x":18,"y":0.03},{"r":15,"x":22,"y":0.012},{"r":15,"x":26,"y":0.006},{"r":15,"x":31,"y":0.003},{"r":15,"x":38,"y":0.0013},{"r":15,"x":46,"y":6e-4},{"r":15,"x":56,"y":3e-4},{"r":15,"x":70,"y":1.4e-4},{"r":15,"x":88,"y":7e-5},{"r":15,"x":110,"y":3.5e-5},{"r":15,"x":140,"y":1.7e-5},{"r":15,"x":180,"y":5e-6},
{"r":16,"x":21,"y":0.092},{"r":16,"x":23,"y":0.06},{"r":16,"x":25,"y":0.041},{"r":16,"x":27,"y":0.02},{"r":16,"x":29,"y":0.013},{"r":16,"x":33,"y":0.007},{"r":16,"x":37,"y":0.0045},{"r":16,"x":40,"y":0.0035},{"r":16,"x":50,"y":0.0022},{"r":16,"x":68,"y":0.0017},{"r":16,"x":80,"y":8e-4},{"r":16,"x":100,"y":4e-4},{"r":16,"x":120,"y":2e-4},{"r":16,"x":150,"y":1e-4},{"r":16,"x":180,"y":5e-5},{"r":16,"x":220,"y":2.5e-5},{"r":16,"x":260,"y":1.2e-5},{"r":16,"x":300,"y":5e-6},
{"r":17,"x":16,"y":0.035},{"r":17,"x":19,"y":0.015},{"r":17,"x":23,"y":0.007},{"r":17,"x":28,"y":0.0035},{"r":17,"x":36,"y":0.0018},{"r":17,"x":52,"y":0.0011},{"r":17,"x":112,"y":1.86e-4},{"r":17,"x":179,"y":1.07e-4},{"r":17,"x":200,"y":8.3e-5},{"r":17,"x":251,"y":2.1e-5},{"r":17,"x":290,"y":5e-6},
{"r":18,"x":14,"y":0.015},{"r":18,"x":16,"y":0.006},{"r":18,"x":19,"y":0.0028},{"r":18,"x":23,"y":0.0013},{"r":18,"x":27,"y":6e-4},{"r":18,"x":33,"y":2.5e-4},{"r":18,"x":40,"y":1.2e-4},{"r":18,"x":48,"y":6e-5},{"r":18,"x":60,"y":2.8e-5},{"r":18,"x":75,"y":1.3e-5},{"r":18,"x":92,"y":5e-6},
{"r":19,"x":14,"y":0.025},{"r":19,"x":17,"y":0.009},{"r":19,"x":20,"y":0.004},{"r":19,"x":24,"y":0.002},{"r":19,"x":29,"y":9e-4},{"r":19,"x":35,"y":4.5e-4},{"r":19,"x":43,"y":2.2e-4},{"r":19,"x":53,"y":1e-4},{"r":19,"x":66,"y":4.5e-5},{"r":19,"x":82,"y":2.2e-5},{"r":19,"x":102,"y":1e-5},{"r":19,"x":120,"y":5e-6},
{"r":20,"x":10,"y":0.015},{"r":20,"x":12,"y":0.006},{"r":20,"x":14,"y":0.0025},{"r":20,"x":17,"y":0.001},{"r":20,"x":20,"y":4e-4},{"r":20,"x":24,"y":1.6e-4},{"r":20,"x":29,"y":7e-5},{"r":20,"x":35,"y":3e-5},{"r":20,"x":42,"y":1.3e-5},{"r":20,"x":50,"y":5e-6},
{"r":21,"x":16,"y":0.015},{"r":21,"x":20,"y":0.006},{"r":21,"x":24,"y":0.003},{"r":21,"x":29,"y":0.0013},{"r":21,"x":35,"y":6e-4},{"r":21,"x":42,"y":3e-4},{"r":21,"x":52,"y":1.3e-4},{"r":21,"x":64,"y":6e-5},{"r":21,"x":80,"y":3e-5},{"r":21,"x":100,"y":1.5e-5},{"r":21,"x":130,"y":5e-6},
{"r":22,"x":14,"y":0.012},{"r":22,"x":17,"y":0.005},{"r":22,"x":20,"y":0.0022},{"r":22,"x":24,"y":0.001},{"r":22,"x":28,"y":4.5e-4},{"r":22,"x":35,"y":2e-4},{"r":22,"x":42,"y":9e-5},{"r":22,"x":52,"y":4e-5},{"r":22,"x":64,"y":2e-5},{"r":22,"x":78,"y":5e-6},
{"r":23,"x":15,"y":0.02},{"r":23,"x":18,"y":0.008},{"r":23,"x":22,"y":0.0035},{"r":23,"x":26,"y":0.0016},{"r":23,"x":31,"y":7e-4},{"r":23,"x":38,"y":3.5e-4},{"r":23,"x":46,"y":1.7e-4},{"r":23,"x":56,"y":8e-5},{"r":23,"x":70,"y":4e-5},{"r":23,"x":88,"y":2e-5},{"r":23,"x":112,"y":1e-5},{"r":23,"x":135,"y":5e-6},
{"r":24,"x":14,"y":0.02},{"r":24,"x":18,"y":0.008},{"r":24,"x":22,"y":0.004},{"r":24,"x":27,"y":0.002},{"r":24,"x":33,"y":0.001},{"r":24,"x":40,"y":5e-4},{"r":24,"x":50,"y":2.5e-4},{"r":24,"x":62,"y":1.4e-4},{"r":24,"x":80,"y":7e-5},{"r":24,"x":110,"y":4e-5},{"r":24,"x":150,"y":2.5e-5},{"r":24,"x":200,"y":1.25e-5},{"r":24,"x":410,"y":5e-6},
{"r":25,"x":17,"y":0.015},{"r":25,"x":21,"y":0.007},{"r":25,"x":25,"y":0.0035},{"r":25,"x":30,"y":0.0017},{"r":25,"x":36,"y":8e-4},{"r":25,"x":44,"y":3.8e-4},{"r":25,"x":54,"y":1.8e-4},{"r":25,"x":67,"y":8e-5},{"r":25,"x":85,"y":4e-5},{"r":25,"x":108,"y":2e-5},{"r":25,"x":135,"y":1e-5},{"r":25,"x":170,"y":5e-6},
{"r":26,"x":15,"y":0.025},{"r":26,"x":19,"y":0.011},{"r":26,"x":24,"y":0.005},{"r":26,"x":30,"y":0.0024},{"r":26,"x":37,"y":0.0011},{"r":26,"x":46,"y":5e-4},{"r":26,"x":58,"y":2.4e-4},{"r":26,"x":75,"y":1.4e-4},{"r":26,"x":100,"y":9e-5},{"r":26,"x":150,"y":6.2e-5},{"r":26,"x":282,"y":5e-6},
{"r":27,"x":13,"y":0.012},{"r":27,"x":15,"y":0.005},{"r":27,"x":18,"y":0.002},{"r":27,"x":21,"y":9e-4},{"r":27,"x":25,"y":4e-4},{"r":27,"x":30,"y":1.8e-4},{"r":27,"x":37,"y":8e-5},{"r":27,"x":45,"y":3.5e-5},{"r":27,"x":55,"y":1.6e-5},{"r":27,"x":66,"y":5e-6},
{"r":28,"x":15,"y":0.013},{"r":28,"x":18,"y":0.006},{"r":28,"x":21,"y":0.0028},{"r":28,"x":25,"y":0.0013},{"r":28,"x":30,"y":6e-4},{"r":28,"x":36,"y":2.8e-4},{"r":28,"x":44,"y":1.3e-4},{"r":28,"x":54,"y":6e-5},{"r":28,"x":67,"y":2.8e-5},{"r":28,"x":83,"y":1.3e-5},{"r":28,"x":100,"y":5e-6},
{"r":29,"x":10,"y":0.008},{"r":29,"x":12,"y":0.0035},{"r":29,"x":14,"y":0.0015},{"r":29,"x":16,"y":6e-4},{"r":29,"x":19,"y":2.5e-4},{"r":29,"x":22,"y":1e-4},{"r":29,"x":26,"y":4e-5},{"r":29,"x":31,"y":1.6e-5},{"r":29,"x":36,"y":5e-6},
{"r":30,"x":13,"y":0.02},{"r":30,"x":16,"y":0.008},{"r":30,"x":19,"y":0.0035},{"r":30,"x":23,"y":0.0016},{"r":30,"x":27,"y":7e-4},{"r":30,"x":33,"y":3e-4},{"r":30,"x":40,"y":1.4e-4},{"r":30,"x":49,"y":6e-5},{"r":30,"x":60,"y":2.8e-5},{"r":30,"x":75,"y":1.3e-5},{"r":30,"x":92,"y":5e-6},
{"r":31,"x":17,"y":0.02},{"r":31,"x":20,"y":0.009},{"r":31,"x":24,"y":0.0045},{"r":31,"x":29,"y":0.0022},{"r":31,"x":35,"y":0.0011},{"r":31,"x":42,"y":5e-4},{"r":31,"x":51,"y":2.4e-4},{"r":31,"x":62,"y":1.1e-4},{"r":31,"x":77,"y":5.5e-5},{"r":31,"x":96,"y":2.6e-5},{"r":31,"x":120,"y":1.3e-5},{"r":31,"x":150,"y":5e-6},
{"r":32,"x":7,"y":0.008},{"r":32,"x":9,"y":0.004},{"r":32,"x":10,"y":0.0015},{"r":32,"x":11,"y":5.5e-4},{"r":32,"x":13,"y":3.2e-4},{"r":32,"x":15,"y":1.2e-4},{"r":32,"x":17,"y":4e-5},{"r":32,"x":19,"y":1.5e-5},{"r":32,"x":21,"y":5e-6},
{"r":33,"x":15,"y":0.017},{"r":33,"x":18,"y":0.008},{"r":33,"x":21,"y":0.004},{"r":33,"x":25,"y":0.0019},{"r":33,"x":30,"y":9e-4},{"r":33,"x":36,"y":4.2e-4},{"r":33,"x":44,"y":2e-4},{"r":33,"x":54,"y":9e-5},{"r":33,"x":66,"y":4.5e-5},{"r":33,"x":82,"y":2.2e-5},{"r":33,"x":100,"y":1.1e-5},{"r":33,"x":125,"y":5e-6},
{"r":34,"x":16,"y":0.03},{"r":34,"x":19,"y":0.013},{"r":34,"x":23,"y":0.006},{"r":34,"x":28,"y":0.003},{"r":34,"x":33,"y":0.0015},{"r":34,"x":40,"y":7e-4},{"r":34,"x":48,"y":3.5e-4},{"r":34,"x":59,"y":1.7e-4},{"r":34,"x":72,"y":8e-5},{"r":34,"x":90,"y":4e-5},{"r":34,"x":115,"y":2e-5},{"r":34,"x":150,"y":1e-5},{"r":34,"x":190,"y":5e-6},
{"r":35,"x":14,"y":0.013},{"r":35,"x":16,"y":0.0055},{"r":35,"x":19,"y":0.0025},{"r":35,"x":22,"y":0.0011},{"r":35,"x":26,"y":5e-4},{"r":35,"x":31,"y":2.2e-4},{"r":35,"x":38,"y":1e-4},{"r":35,"x":46,"y":4.5e-5},{"r":35,"x":56,"y":2e-5},{"r":35,"x":68,"y":5e-6},
{"r":36,"x":11,"y":0.015},{"r":36,"x":13,"y":0.006},{"r":36,"x":15,"y":0.0025},{"r":36,"x":18,"y":0.001},{"r":36,"x":21,"y":4e-4},{"r":36,"x":25,"y":1.6e-4},{"r":36,"x":29,"y":6e-5},{"r":36,"x":34,"y":2.5e-5},{"r":36,"x":40,"y":1e-5},{"r":36,"x":46,"y":5e-6},
{"r":37,"x":16,"y":0.012},{"r":37,"x":19,"y":0.006},{"r":37,"x":23,"y":0.003},{"r":37,"x":28,"y":0.0015},{"r":37,"x":34,"y":7e-4},{"r":37,"x":41,"y":3.5e-4},{"r":37,"x":50,"y":1.8e-4},{"r":37,"x":62,"y":9e-5},{"r":37,"x":80,"y":4.5e-5},{"r":37,"x":110,"y":2.1e-5},{"r":37,"x":250,"y":1.3e-5},{"r":37,"x":316,"y":5e-6},
{"r":38,"x":18,"y":0.018},{"r":38,"x":22,"y":0.009},{"r":38,"x":26,"y":0.0045},{"r":38,"x":31,"y":0.0022},{"r":38,"x":37,"y":0.0011},{"r":38,"x":45,"y":5.5e-4},{"r":38,"x":55,"y":2.7e-4},{"r":38,"x":68,"y":1.3e-4},{"r":38,"x":85,"y":6.5e-5},{"r":38,"x":105,"y":3.2e-5},{"r":38,"x":130,"y":1.6e-5},{"r":38,"x":165,"y":5e-6},
{"r":39,"x":15,"y":0.012},{"r":39,"x":18,"y":0.0055},{"r":39,"x":22,"y":0.0025},{"r":39,"x":26,"y":0.0012},{"r":39,"x":31,"y":5.5e-4},{"r":39,"x":37,"y":2.5e-4},{"r":39,"x":45,"y":1.2e-4},{"r":39,"x":55,"y":5.5e-5},{"r":39,"x":68,"y":2.5e-5},{"r":39,"x":84,"y":1.1e-5},{"r":39,"x":104,"y":5e-6},
{"r":40,"x":17,"y":0.018},{"r":40,"x":21,"y":0.008},{"r":40,"x":25,"y":0.004},{"r":40,"x":30,"y":0.002},{"r":40,"x":36,"y":9.5e-4},{"r":40,"x":43,"y":4.5e-4},{"r":40,"x":52,"y":2.2e-4},{"r":40,"x":64,"y":1e-4},{"r":40,"x":80,"y":5e-5},{"r":40,"x":100,"y":2.4e-5},{"r":40,"x":128,"y":1.1e-5},{"r":40,"x":160,"y":5e-6},
{"r":41,"x":14,"y":0.01},{"r":41,"x":17,"y":0.0045},{"r":41,"x":20,"y":0.002},{"r":41,"x":24,"y":9e-4},{"r":41,"x":29,"y":4e-4},{"r":41,"x":35,"y":1.8e-4},{"r":41,"x":42,"y":8e-5},{"r":41,"x":52,"y":3.6e-5},{"r":41,"x":64,"y":1.6e-5},{"r":41,"x":78,"y":5e-6},
{"r":42,"x":16,"y":0.018},{"r":42,"x":19,"y":0.008},{"r":42,"x":23,"y":0.0038},{"r":42,"x":28,"y":0.0018},{"r":42,"x":34,"y":8.5e-4},{"r":42,"x":41,"y":4e-4},{"r":42,"x":50,"y":1.9e-4},{"r":42,"x":61,"y":9e-5},{"r":42,"x":75,"y":4.2e-5},{"r":42,"x":93,"y":2e-5},{"r":42,"x":118,"y":9e-6},{"r":42,"x":145,"y":5e-6},
{"r":43,"x":12,"y":0.02},{"r":43,"x":15,"y":0.008},{"r":43,"x":18,"y":0.0033},{"r":43,"x":21,"y":0.0014},{"r":43,"x":25,"y":6e-4},{"r":43,"x":30,"y":2.6e-4},{"r":43,"x":36,"y":1.1e-4},{"r":43,"x":44,"y":4.8e-5},{"r":43,"x":54,"y":2e-5},{"r":43,"x":66,"y":9e-6},{"r":43,"x":80,"y":5e-6},
{"r":44,"x":17,"y":0.016},{"r":44,"x":20,"y":0.0075},{"r":44,"x":24,"y":0.0036},{"r":44,"x":29,"y":0.0017},{"r":44,"x":35,"y":8e-4},{"r":44,"x":42,"y":3.8e-4},{"r":44,"x":51,"y":1.8e-4},{"r":44,"x":63,"y":8.5e-5},{"r":44,"x":79,"y":4e-5},{"r":44,"x":99,"y":1.9e-5},{"r":44,"x":125,"y":9e-6},{"r":44,"x":155,"y":5e-6},
{"r":45,"x":20,"y":0.035},{"r":45,"x":24,"y":0.016},{"r":45,"x":29,"y":0.008},{"r":45,"x":35,"y":0.004},{"r":45,"x":42,"y":0.002},{"r":45,"x":51,"y":0.001},{"r":45,"x":62,"y":5e-4},{"r":45,"x":76,"y":2.5e-4},{"r":45,"x":94,"y":1.2e-4},{"r":45,"x":118,"y":6e-5},{"r":45,"x":150,"y":3e-5},{"r":45,"x":195,"y":1.5e-5},{"r":45,"x":240,"y":5e-6},
{"r":46,"x":9,"y":0.012},{"r":46,"x":11,"y":0.005},{"r":46,"x":13,"y":0.002},{"r":46,"x":15,"y":8e-4},{"r":46,"x":18,"y":3e-4},{"r":46,"x":21,"y":1.2e-4},{"r":46,"x":25,"y":5e-5},{"r":46,"x":30,"y":2e-5},{"r":46,"x":36,"y":5e-6},
{"r":47,"x":15,"y":0.022},{"r":47,"x":18,"y":0.01},{"r":47,"x":22,"y":0.0045},{"r":47,"x":26,"y":0.0021},{"r":47,"x":32,"y":9.5e-4},{"r":47,"x":38,"y":4.5e-4},{"r":47,"x":46,"y":2.1e-4},{"r":47,"x":56,"y":1e-4},{"r":47,"x":69,"y":4.6e-5},{"r":47,"x":86,"y":2.1e-5},{"r":47,"x":108,"y":1e-5},{"r":47,"x":130,"y":5e-6},
{"r":48,"x":14,"y":0.012},{"r":48,"x":16,"y":0.005},{"r":48,"x":19,"y":0.0023},{"r":48,"x":23,"y":0.0011},{"r":48,"x":27,"y":5e-4},{"r":48,"x":33,"y":2.3e-4},{"r":48,"x":40,"y":1.05e-4},{"r":48,"x":49,"y":4.8e-5},{"r":48,"x":60,"y":2.2e-5},{"r":48,"x":74,"y":1e-5},{"r":48,"x":88,"y":5e-6},
{"r":49,"x":16,"y":0.025},{"r":49,"x":20,"y":0.012},{"r":49,"x":25,"y":0.006},{"r":49,"x":31,"y":0.0032},{"r":49,"x":38,"y":0.0017},{"r":49,"x":47,"y":9e-4},{"r":49,"x":58,"y":5e-4},{"r":49,"x":72,"y":2.7e-4},{"r":49,"x":90,"y":1.5e-4},{"r":49,"x":115,"y":8e-5},{"r":49,"x":145,"y":4e-5},{"r":49,"x":185,"y":2e-5},{"r":49,"x":230,"y":1e-5},{"r":49,"x":270,"y":5e-6},
{"r":50,"x":13,"y":0.022},{"r":50,"x":16,"y":0.009},{"r":50,"x":19,"y":0.004},{"r":50,"x":23,"y":0.0018},{"r":50,"x":27,"y":8e-4},{"r":50,"x":33,"y":3.5e-4},{"r":50,"x":40,"y":1.6e-4},{"r":50,"x":48,"y":7e-5},{"r":50,"x":59,"y":3.2e-5},{"r":50,"x":72,"y":1.4e-5},{"r":50,"x":88,"y":5e-6},
{"r":51,"x":17,"y":0.013},{"r":51,"x":20,"y":0.006},{"r":51,"x":24,"y":0.0028},{"r":51,"x":29,"y":0.0013},{"r":51,"x":34,"y":6e-4},{"r":51,"x":41,"y":2.8e-4},{"r":51,"x":50,"y":1.3e-4},{"r":51,"x":61,"y":6e-5},{"r":51,"x":75,"y":2.8e-5},{"r":51,"x":92,"y":1.3e-5},{"r":51,"x":112,"y":5e-6},
{"r":52,"x":11,"y":0.013},{"r":52,"x":13,"y":0.0055},{"r":52,"x":16,"y":0.0024},{"r":52,"x":19,"y":0.001},{"r":52,"x":22,"y":4.4e-4},{"r":52,"x":26,"y":1.9e-4},{"r":52,"x":31,"y":8e-5},{"r":52,"x":37,"y":3.5e-5},{"r":52,"x":44,"y":1.5e-5},{"r":52,"x":52,"y":5e-6},
{"r":53,"x":16,"y":0.011},{"r":53,"x":19,"y":0.005},{"r":53,"x":23,"y":0.0024},{"r":53,"x":27,"y":0.0011},{"r":53,"x":33,"y":5e-4},{"r":53,"x":40,"y":2.3e-4},{"r":53,"x":48,"y":1.05e-4},{"r":53,"x":59,"y":4.8e-5},{"r":53,"x":72,"y":2.2e-5},{"r":53,"x":89,"y":1e-5},{"r":53,"x":108,"y":5e-6},
{"r":54,"x":15,"y":0.015},{"r":54,"x":18,"y":0.007},{"r":54,"x":21,"y":0.0032},{"r":54,"x":25,"y":0.0015},{"r":54,"x":30,"y":7e-4},{"r":54,"x":36,"y":3.2e-4},{"r":54,"x":44,"y":1.5e-4},{"r":54,"x":54,"y":7e-5},{"r":54,"x":67,"y":3.2e-5},{"r":54,"x":83,"y":1.5e-5},{"r":54,"x":102,"y":7e-6},{"r":54,"x":120,"y":5e-6}
],
"avg":[
{"x":2.2,"y":10},{"x":3,"y":6.8},{"x":3.4,"y":5.85},{"x":4,"y":4.3},{"x":5,"y":2.9},{"x":6,"y":2.03},{"x":7,"y":1.5},{"x":8,"y":1.15},{"x":8.7,"y":0.93},{"x":9.5,"y":0.5},{"x":10.5,"y":0.25},{"x":12,"y":0.091},{"x":13.5,"y":0.033},{"x":15.5,"y":0.012},{"x":18,"y":0.0055},{"x":20,"y":0.0032},{"x":22.9,"y":0.0019},{"x":28,"y":0.001},{"x":33,"y":5.5e-4},{"x":39.4,"y":2.65e-4},{"x":45.4,"y":1.6e-4},{"x":55,"y":9e-5},{"x":62,"y":5.5e-5},{"x":70,"y":4.3e-5},{"x":80,"y":3.3e-5},{"x":90,"y":2.6e-5},{"x":105,"y":1.8e-5},{"x":120,"y":1.26e-5},{"x":130,"y":1.0e-5},{"x":132,"y":9e-6}
]
},
"layer":[
{"data":{"name":"e"},
"mark":{"type":"line","clip":true,"interpolate":"linear"},
"encoding":{
"x":{"field":"x","type":"quantitative","scale":{"type":"log","domain":[1,1000],"nice":false},
"axis":{"orient":"bottom","values":[1,10,100,1000],"offset":-8,"tickSize":8,"domain":false,"labelPadding":9,"labelFlush":false,"labelOverlap":false,
"labelExpr":"datum.value == 1 ? '10⁰' : datum.value == 10 ? '10¹' : datum.value == 100 ? '10²' : '10³'",
"title":"Number of Generations","titleFontSize":14,"titleFontWeight":"bold","titlePadding":-3}},
"y":{"field":"y","type":"quantitative","scale":{"type":"log","domain":[1e-5,70],"nice":false},
"axis":{"orient":"left","values":[1e-4,1e-3,1e-2,0.1,1,10],"offset":-8,"tickSize":8,"domain":false,"labelPadding":2,"labelFlush":false,"labelOverlap":false,
"labelExpr":"datum.value < 0.0005 ? '10⁻⁴' : datum.value < 0.005 ? '10⁻³' : datum.value < 0.05 ? '10⁻²' : datum.value < 0.5 ? '10⁻¹' : datum.value < 5 ? '10⁰' : '10¹'",
"title":"Residual Error","titleFontSize":14,"titleFontWeight":"bold","titlePadding":6}},
"detail":{"field":"r","type":"nominal"},
"color":{"datum":"Random Convergence Tests","type":"nominal",
"scale":{"domain":["Random Convergence Tests","Average Convergence Test"],"range":["#a3a3a3","#000000"]},
"legend":{"title":null,"orient":"none","legendX":587,"legendY":17,"direction":"vertical","padding":5,"strokeColor":"#262626","fillColor":"#ffffff",
"symbolType":"M-0.89,0H2.11","symbolSize":324,"labelOffset":17,"labelFontSize":12.6,"labelFont":"Liberation Sans","labelColor":"#000000","rowPadding":5,
"symbolStrokeWidth":{"expr":"datum.value == 'Average Convergence Test' ? 2.2 : 1"}}},
"strokeWidth":{"value":1}
}},
{"data":{"name":"t"},
"mark":{"type":"line","clip":true,"interpolate":"step-after"},
"encoding":{
"x":{"field":"x","type":"quantitative",
"axis":{"orient":"bottom","values":[2,3,4,5,6,7,8,9,20,30,40,50,60,70,80,90,200,300,400,500,600,700,800,900],"offset":-4,"tickSize":4,"domain":false,"labels":false,"title":null}},
"y":{"field":"y","type":"quantitative",
"axis":{"orient":"left","values":[2e-5,3e-5,4e-5,5e-5,6e-5,7e-5,8e-5,9e-5,2e-4,3e-4,4e-4,5e-4,6e-4,7e-4,8e-4,9e-4,0.002,0.003,0.004,0.005,0.006,0.007,0.008,0.009,0.02,0.03,0.04,0.05,0.06,0.07,0.08,0.09,0.2,0.3,0.4,0.5,0.6,0.7,0.8,0.9,2,3,4,5,6,7,8,9,20,30,40,50,60,70],"offset":-4,"tickSize":4,"domain":false,"labels":false,"title":null}},
"detail":{"field":"r","type":"nominal"},
"color":{"datum":"Random Convergence Tests","type":"nominal"},
"strokeWidth":{"value":1}
}},
{"data":{"name":"avg"},
"mark":{"type":"line","clip":true,"interpolate":"linear"},
"encoding":{
"x":{"field":"x","type":"quantitative",
"axis":{"orient":"top","values":[1,10,100,1000],"offset":-8,"tickSize":8,"domain":false,"labels":false,"title":null}},
"y":{"field":"y","type":"quantitative",
"axis":{"orient":"right","values":[1e-4,1e-3,1e-2,0.1,1,10],"offset":-8,"tickSize":8,"domain":false,"labels":false,"title":null}},
"color":{"datum":"Average Convergence Test","type":"nominal"},
"strokeWidth":{"value":2.2}
}},
{"data":{"name":"avg"},
"mark":{"type":"line","clip":true,"strokeOpacity":0},
"encoding":{
"x":{"field":"x","type":"quantitative",
"axis":{"orient":"top","values":[2,3,4,5,6,7,8,9,20,30,40,50,60,70,80,90,200,300,400,500,600,700,800,900],"offset":-4,"tickSize":4,"domain":false,"labels":false,"title":null}},
"y":{"field":"y","type":"quantitative",
"axis":{"orient":"right","values":[2e-5,3e-5,4e-5,5e-5,6e-5,7e-5,8e-5,9e-5,2e-4,3e-4,4e-4,5e-4,6e-4,7e-4,8e-4,9e-4,0.002,0.003,0.004,0.005,0.006,0.007,0.008,0.009,0.02,0.03,0.04,0.05,0.06,0.07,0.08,0.09,0.2,0.3,0.4,0.5,0.6,0.7,0.8,0.9,2,3,4,5,6,7,8,9,20,30,40,50,60,70],"offset":-4,"tickSize":4,"domain":false,"labels":false,"title":null}}
}}
],
"resolve":{"axis":{"x":"independent","y":"independent"}}
}
